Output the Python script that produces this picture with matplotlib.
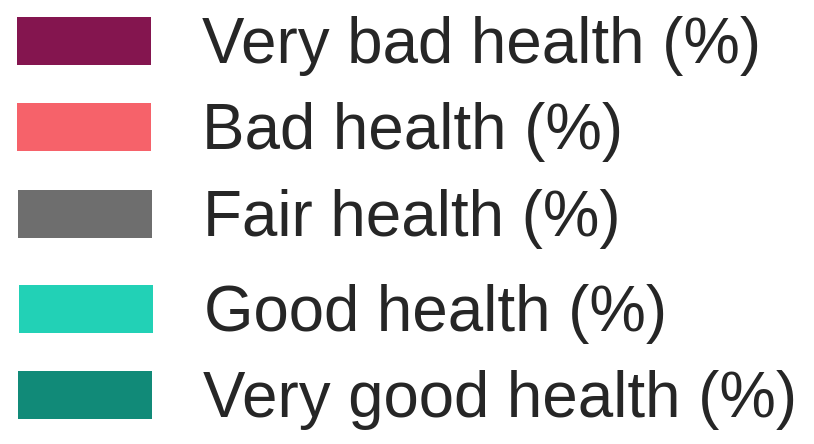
import matplotlib
matplotlib.use("Agg")
import matplotlib.pyplot as plt
from matplotlib.patches import Rectangle

labels = ["Very bad health (%)", "Bad health (%)", "Fair health (%)",
          "Good health (%)", "Very good health (%)"]
colors = ["#84154F", "#F6626A", "#6E6E6E", "#22D1B6", "#118A78"]

# layout (pixel positions of each legend row: top of swatch)
row_tops = [17, 103, 190, 285, 371]
row_x = [17, 17, 18, 19, 18]
sw_w, sw_h = 134, 48

fig = plt.figure(figsize=(8.14, 4.44), dpi=100)
ax = fig.add_axes([0, 0, 1, 1])
ax.set_xlim(0, 814)
ax.set_ylim(444, 0)
ax.axis("off")

for lab, col, y, x in zip(labels, colors, row_tops, row_x):
    ax.add_patch(Rectangle((x, y), sw_w, sw_h, facecolor=col, edgecolor="none"))
    ax.text(x + 185, y + sw_h / 2 + 21.5, lab, fontsize=45.8, family="Liberation Sans",
            color="#262626", va="baseline", ha="left")

fig.savefig("out.png", dpi=100)
